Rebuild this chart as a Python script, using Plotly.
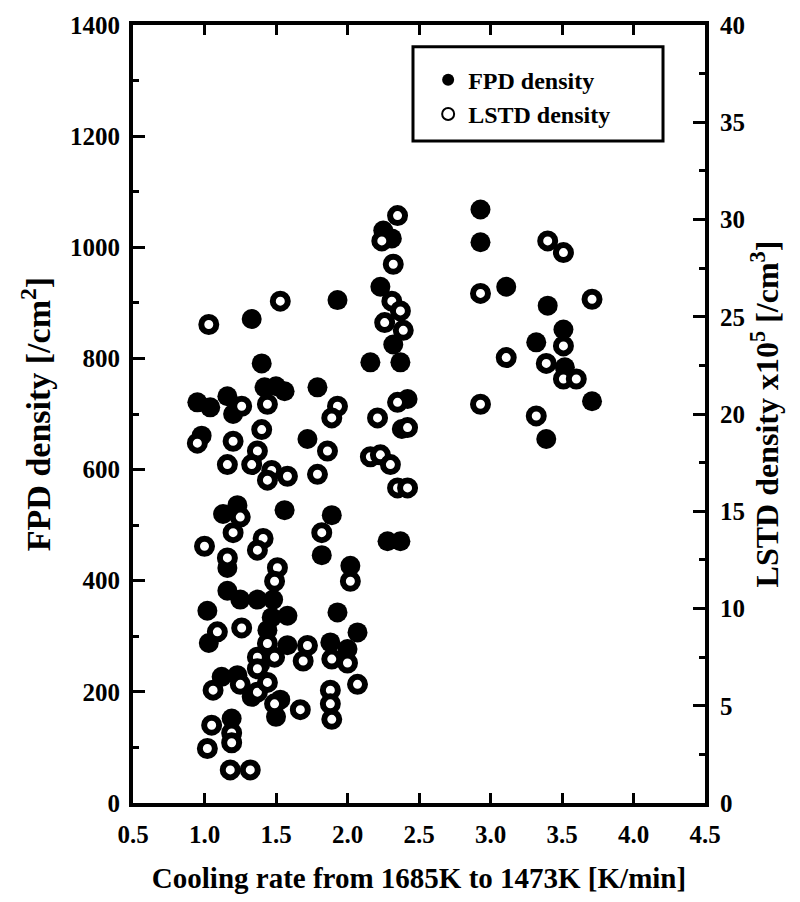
import plotly.graph_objects as go

# FPD density (filled circles) : cooling rate [K/min], density [/cm2]
fpd_x = [2.93, 2.93, 3.11, 3.40, 3.51, 3.32, 3.52, 3.71, 3.39,
         2.25, 2.31, 2.23, 1.93, 2.32, 2.16, 2.37, 1.79, 2.42, 2.38, 1.72,
         1.89, 2.28, 2.37, 1.82, 2.02, 1.93, 2.07, 1.88, 2.00,
         1.33, 1.40, 0.95, 1.04, 1.16, 1.20, 1.42, 1.50, 1.56, 0.98,
         1.23, 1.13, 1.56, 1.16, 1.16, 1.25, 1.37, 1.48, 1.02, 1.58,
         1.47, 1.44, 1.58, 1.03, 1.39, 1.12, 1.23, 1.33, 1.53, 1.50, 1.19]
fpd_y = [1068, 1009, 929, 895, 852, 829, 784, 723, 655,
         1030, 1016, 929, 905, 825, 793, 793, 748, 727, 673, 655,
         518, 471, 471, 446, 427, 343, 307, 289, 277,
         871, 791, 721, 712, 732, 700, 748, 750, 741, 661,
         536, 520, 527, 423, 382, 366, 366, 366, 346, 337,
         334, 311, 284, 288, 250, 227, 230, 191, 186, 155, 152]

# LSTD density (open circles) : cooling rate [K/min], density x10^5
lstd_x = [3.40, 3.51, 2.93, 3.71, 3.51, 3.11, 3.39, 3.51, 3.60, 2.93, 3.32,
          2.35, 2.24, 2.32, 2.31, 2.37, 2.26, 2.39, 1.93, 1.89, 2.21, 2.35,
          2.42, 1.86, 2.16, 2.23, 2.30, 1.79, 2.35, 2.42, 1.82, 2.02, 1.72,
          1.69, 1.89, 2.00, 2.07, 1.88, 1.88, 1.89, 1.67,
          1.03, 1.53, 1.26, 1.44, 0.95, 1.20, 1.40, 1.37, 1.33, 1.16, 1.47,
          1.58, 1.44, 1.25, 1.20, 1.00, 1.41, 1.37, 1.16, 1.51, 1.49, 1.26,
          1.09, 1.44, 1.37, 1.49, 1.37, 1.06, 1.25, 1.37, 1.44, 1.49, 1.05,
          1.19, 1.02, 1.19, 1.18, 1.32]
lstd_y = [28.9, 28.3, 26.2, 25.9, 23.5, 22.9, 22.6, 21.8, 21.8, 20.5, 19.9,
          30.2, 28.9, 27.7, 25.8, 25.3, 24.7, 24.3, 20.4, 19.8, 19.8, 20.6,
          19.3, 18.1, 17.8, 17.9, 17.4, 16.9, 16.2, 16.2, 13.9, 11.4, 8.1,
          7.3, 7.4, 7.2, 6.1, 5.8, 5.1, 4.3, 4.8,
          24.6, 25.8, 20.4, 20.5, 18.5, 18.6, 19.2, 18.1, 17.4, 17.4, 17.1,
          16.8, 16.6, 14.7, 13.9, 13.2, 13.6, 13.0, 12.6, 12.1, 11.4, 9.0,
          8.8, 8.2, 7.5, 7.5, 6.9, 5.8, 6.1, 5.7, 6.2, 5.1, 4.0,
          3.6, 2.8, 3.1, 1.7, 1.7]

x_ticks = [0.5, 1.0, 1.5, 2.0, 2.5, 3.0, 3.5, 4.0, 4.5]

FONT = "Liberation Serif"

fig = go.Figure()
fig.add_trace(go.Scatter(
    x=fpd_x, y=fpd_y, mode="markers", name="FPD density",
    marker=dict(symbol="circle", size=20, color="black",
                line=dict(width=0)),
    yaxis="y"))
fig.add_trace(go.Scatter(
    x=lstd_x, y=lstd_y, mode="markers", name="LSTD density",
    marker=dict(symbol="circle", size=15, color="white",
                line=dict(width=6, color="black")),
    yaxis="y2"))

axis_font = dict(family=FONT, size=25, color="black", weight="bold")

fig.update_layout(
    width=800, height=902,
    margin=dict(l=133, r=95, t=23, b=95),
    paper_bgcolor="white", plot_bgcolor="white",
    showlegend=True,
    legend=dict(x=0.516, y=0.958, xanchor="left", yanchor="top",
                bgcolor="rgba(0,0,0,0)", borderwidth=0,
                font=dict(family=FONT, size=24, color="black", weight="bold"),
                itemsizing="constant", tracegroupgap=0),
    shapes=[dict(type="rect", xref="paper", yref="paper",
                 x0=0.4895, x1=0.9266, y0=0.8508, y1=0.9719,
                 line=dict(color="black", width=3), fillcolor="rgba(0,0,0,0)",
                 layer="above")],
    xaxis=dict(range=[0.5, 4.5], tickvals=x_ticks,
               ticktext=[f"{v:.1f}" for v in x_ticks],
               ticks="inside", ticklen=10, tickwidth=3, tickcolor="black",
               showline=True, linewidth=4, linecolor="black", mirror="ticks",
               showgrid=False, zeroline=False, tickfont=axis_font,
               ticklabelstandoff=6,
               title=dict(text="Cooling rate from 1685K to 1473K [K/min]",
                          font=dict(family=FONT, size=29, color="black", weight="bold"),
                          standoff=22)),
    yaxis=dict(range=[0, 1400], dtick=200, ticks="inside", ticklen=12,
               tickwidth=3, tickcolor="black",
               minor=dict(dtick=100, ticks="inside", ticklen=6, tickwidth=3, tickcolor="black"),
               showline=True, linewidth=4, linecolor="black", mirror=False,
               showgrid=False, zeroline=False, tickfont=axis_font,
               ticklabelstandoff=4,
               title=dict(text="FPD density [/cm<sup>2</sup>]",
                          font=dict(family=FONT, size=34, color="black", weight="bold"),
                          standoff=10)),
    yaxis2=dict(range=[0, 40], dtick=5, overlaying="y", side="right",
                ticks="inside", ticklen=12, tickwidth=3, tickcolor="black",
                minor=dict(dtick=2.5, ticks="inside", ticklen=6, tickwidth=3, tickcolor="black"),
                showline=True, linewidth=4, linecolor="black",
                showgrid=False, zeroline=False, tickfont=axis_font,
                ticklabelstandoff=6,
                title=dict(text="LSTD density x10<sup>5</sup> [/cm<sup>3</sup>]",
                           font=dict(family=FONT, size=32, color="black", weight="bold"),
                           standoff=8)),
)

fig.write_html("out.html")
